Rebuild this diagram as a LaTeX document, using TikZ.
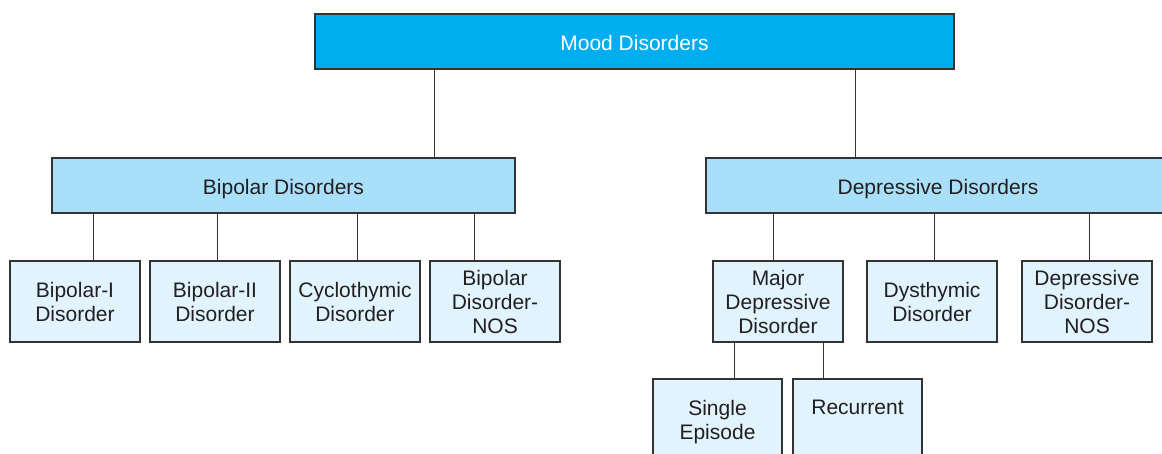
\documentclass[tikz,border=0pt]{standalone}
\usepackage{fontspec}
\setmainfont{Liberation Sans}
\definecolor{topfill}{HTML}{00AEEF}
\definecolor{midfill}{HTML}{A9DFF9}
\definecolor{leaffill}{HTML}{E1F3FC}
\definecolor{edgecol}{HTML}{333333}
\definecolor{txtcol}{HTML}{231F20}
\tikzset{
  basebox/.style={draw=edgecol, line width=1.3pt, inner sep=0pt, align=center,
    font=\fontsize{21}{24}\selectfont, text=txtcol},
  oneline/.style={text height=19pt, text depth=0pt},
  topbox/.style={basebox, oneline, fill=topfill, text=white, minimum width=639pt, minimum height=55pt},
  midbox/.style={basebox, oneline, fill=midfill, minimum width=463pt, minimum height=55pt},
  leafbox/.style={basebox, fill=leaffill, minimum width=130pt, minimum height=81pt},
  conn/.style={draw=edgecol, line width=0.9pt}
}
\begin{document}
\begin{tikzpicture}[x=1pt,y=-1pt]
\useasboundingbox (0,0) rectangle (1162,454);
\clip (0,0) rectangle (1162,454);
% top
\node[topbox] (mood) at (634.5,41.5) {Mood Disorders};
% middle
\node[midbox] (bip) at (283.5,185.5) {Bipolar Disorders};
\node[midbox, minimum width=464pt] (dep) at (938,185.5) {Depressive Disorders};
% bipolar leaves
\node[leafbox] (b1) at (75,301.5) {Bipolar-I\\Disorder};
\node[leafbox] (b2) at (215,301.5) {Bipolar-II\\Disorder};
\node[leafbox] (b3) at (355,301.5) {Cyclothymic\\Disorder};
\node[leafbox] (b4) at (495,301.5) {Bipolar\\Disorder-\\NOS};
% depressive leaves
\node[leafbox] (mdd) at (778,301.5) {Major\\Depressive\\Disorder};
\node[leafbox] (dys) at (932,301.5) {Dysthymic\\Disorder};
\node[leafbox] (dnos) at (1087,301.5) {Depressive\\Disorder-\\NOS};
% major depressive children
\node[leafbox, minimum width=129pt, minimum height=87pt] (single) at (717.5,422.5) {Single\\Episode};
\node[leafbox, minimum width=129pt, minimum height=87pt, text height=0pt, text depth=15.5pt] (recur) at (857.5,422.5) {Recurrent};
% connector x positions
\coordinate (xa) at (434,0);
\coordinate (xb) at (855,0);
\coordinate (x1) at (93,0);
\coordinate (x2) at (217,0);
\coordinate (x3) at (357,0);
\coordinate (x4) at (474,0);
\coordinate (x5) at (773,0);
\coordinate (x6) at (934,0);
\coordinate (x7) at (1089,0);
\coordinate (x8) at (734,0);
\coordinate (x9) at (823,0);
% connectors
\draw[conn] (mood.south -| xa) -- (bip.north -| xa);
\draw[conn] (mood.south -| xb) -- (dep.north -| xb);
\draw[conn] (bip.south -| x1) -- (b1.north -| x1);
\draw[conn] (bip.south -| x2) -- (b2.north -| x2);
\draw[conn] (bip.south -| x3) -- (b3.north -| x3);
\draw[conn] (bip.south -| x4) -- (b4.north -| x4);
\draw[conn] (dep.south -| x5) -- (mdd.north -| x5);
\draw[conn] (dep.south -| x6) -- (dys.north -| x6);
\draw[conn] (dep.south -| x7) -- (dnos.north -| x7);
\draw[conn] (mdd.south -| x8) -- (single.north -| x8);
\draw[conn] (mdd.south -| x9) -- (recur.north -| x9);
\end{tikzpicture}
\end{document}
